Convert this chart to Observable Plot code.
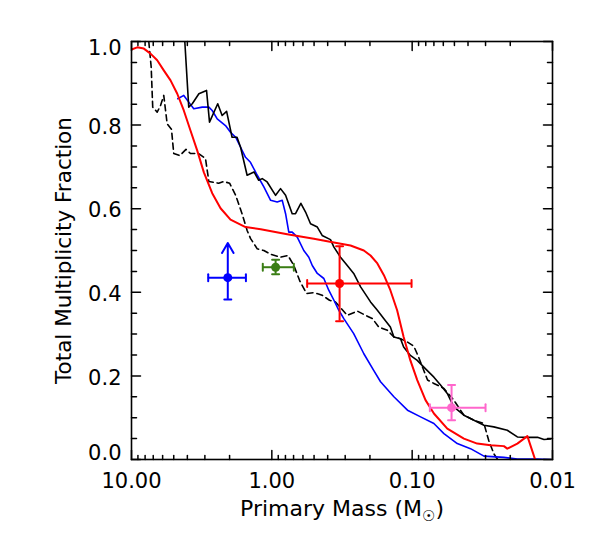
<!DOCTYPE html>
<html><head><meta charset="utf-8">
<script src="https://cdn.jsdelivr.net/npm/d3@7"></script>
<script src="https://cdn.jsdelivr.net/npm/@observablehq/plot@0.6"></script>
<style>body{margin:0;background:#fff}</style>
</head><body><div id="chart"></div>
<script>
// ---- Data (primary mass in solar masses, total multiplicity fraction) ----
const blackSolidMass = [4.17, 3.91, 3.69, 3.31, 2.92, 2.78, 2.43, 2.26, 2.10, 1.92, 1.77, 1.67, 1.50, 1.34, 1.24, 1.17, 1.08, 0.94, 0.867, 0.798, 0.716, 0.678, 0.621, 0.575, 0.530, 0.474, 0.438, 0.382, 0.361, 0.324, 0.290, 0.261, 0.233, 0.209, 0.198, 0.177, 0.159, 0.143, 0.135, 0.121, 0.115, 0.103, 0.092, 0.0826, 0.070, 0.0628, 0.0562, 0.0505, 0.0428, 0.0363, 0.0308, 0.0262, 0.0210, 0.0178, 0.0151, 0.0128, 0.0115, 0.0103];
const blackSolidFrac = [1.0, 0.843, 0.851, 0.875, 0.883, 0.807, 0.851, 0.823, 0.833, 0.771, 0.771, 0.747, 0.680, 0.688, 0.668, 0.672, 0.664, 0.632, 0.648, 0.632, 0.588, 0.588, 0.613, 0.592, 0.564, 0.556, 0.536, 0.526, 0.508, 0.484, 0.464, 0.445, 0.413, 0.389, 0.377, 0.357, 0.337, 0.317, 0.293, 0.289, 0.269, 0.249, 0.237, 0.221, 0.197, 0.178, 0.158, 0.126, 0.106, 0.094, 0.082, 0.078, 0.070, 0.054, 0.053, 0.053, 0.048, 0.049];

const blackDashMass = [7.53, 7.24, 7.06, 6.56, 6.21, 5.89, 5.57, 5.19, 5.00, 4.53, 4.09, 3.80, 3.33, 2.97, 2.81, 2.59, 2.39, 2.20, 2.00, 1.81, 1.63, 1.50, 1.42, 1.27, 1.14, 1.02, 0.867, 0.767, 0.697, 0.630, 0.566, 0.508, 0.465, 0.438, 0.388, 0.352, 0.290, 0.246, 0.215, 0.192, 0.173, 0.150, 0.135, 0.121, 0.108, 0.0973, 0.090, 0.0826, 0.0777, 0.070, 0.0594, 0.0505, 0.0428, 0.0363, 0.0308, 0.0285, 0.0262, 0.0246];
const blackDashFrac = [1.0, 0.939, 0.843, 0.831, 0.847, 0.871, 0.803, 0.790, 0.732, 0.727, 0.742, 0.732, 0.732, 0.720, 0.665, 0.663, 0.661, 0.665, 0.661, 0.632, 0.588, 0.548, 0.529, 0.504, 0.500, 0.491, 0.484, 0.488, 0.464, 0.426, 0.397, 0.399, 0.396, 0.393, 0.381, 0.377, 0.345, 0.355, 0.345, 0.337, 0.317, 0.309, 0.293, 0.289, 0.281, 0.271, 0.245, 0.213, 0.190, 0.182, 0.170, 0.142, 0.106, 0.094, 0.086, 0.046, 0.014, 0.0];

const blueMass = [4.68, 4.24, 3.91, 3.60, 3.13, 2.81, 2.66, 2.45, 2.14, 1.97, 1.81, 1.67, 1.54, 1.42, 1.27, 1.14, 1.02, 0.916, 0.843, 0.798, 0.757, 0.716, 0.659, 0.592, 0.545, 0.515, 0.474, 0.426, 0.393, 0.361, 0.333, 0.307, 0.261, 0.221, 0.188, 0.168, 0.135, 0.108, 0.0871, 0.070, 0.0594, 0.0477, 0.0384, 0.0308, 0.0222, 0.0178, 0.0128, 0.0103];
const blueFrac = [0.863, 0.871, 0.855, 0.839, 0.843, 0.843, 0.835, 0.815, 0.799, 0.783, 0.771, 0.747, 0.723, 0.711, 0.680, 0.652, 0.620, 0.616, 0.620, 0.588, 0.544, 0.544, 0.532, 0.500, 0.484, 0.464, 0.445, 0.433, 0.405, 0.381, 0.357, 0.337, 0.301, 0.253, 0.213, 0.186, 0.150, 0.118, 0.102, 0.086, 0.062, 0.038, 0.026, 0.008, 0.005, 0.001, 0.001, 0.0];

const redMass = [10, 9.10, 8.17, 7.32, 6.56, 5.89, 5.27, 4.72, 4.24, 3.80, 3.40, 3.05, 2.66, 2.32, 1.97, 1.54, 1.20, 0.777, 0.502, 0.361, 0.275, 0.221, 0.198, 0.177, 0.159, 0.143, 0.128, 0.115, 0.103, 0.092, 0.0803, 0.070, 0.0562, 0.0428, 0.0344, 0.0276, 0.0222, 0.0210, 0.0178, 0.0151, 0.0133];
const redFrac = [0.981, 0.986, 0.983, 0.971, 0.955, 0.931, 0.907, 0.875, 0.835, 0.787, 0.739, 0.687, 0.637, 0.601, 0.574, 0.556, 0.551, 0.539, 0.528, 0.519, 0.512, 0.500, 0.488, 0.469, 0.441, 0.405, 0.357, 0.293, 0.237, 0.190, 0.142, 0.110, 0.074, 0.050, 0.038, 0.034, 0.032, 0.026, 0.038, 0.056, 0.0];

// Observational points with error bars
const pointMass    = [2.06, 0.94, 0.329, 0.0524];
const pointFrac    = [0.435, 0.460, 0.421, 0.124];
const pointMassHi  = [2.84, 1.16, 0.560, 0.0748];
const pointMassLo  = [1.53, 0.697, 0.101, 0.030];
const pointFracHi  = [0.518, 0.478, 0.510, 0.178];
const pointFracLo  = [0.383, 0.443, 0.331, 0.094];
const pointLowerLimit = [true, false, false, false];
const pointColor   = ["#0000ff", "#3a7d14", "#ff0000", "#ff66cc"];

// Axis ticks
const xMajorTicks = [10, 1, 0.1, 0.01];
const xTickLabels = ["10.00", "1.00", "0.10", "0.01"];
const xMinorTicks = [9, 8, 7, 6, 5, 4, 3, 2, 0.9, 0.8, 0.7, 0.6, 0.5, 0.4, 0.3, 0.2, 0.09, 0.08, 0.07, 0.06, 0.05, 0.04, 0.03, 0.02];
const yMajorTicks = [0, 0.2, 0.4, 0.6, 0.8, 1.0];
const yTickLabels = ["0.0", "0.2", "0.4", "0.6", "0.8", "1.0"];
const yMinorTicks = [0.05, 0.1, 0.15, 0.25, 0.3, 0.35, 0.45, 0.5, 0.55, 0.65, 0.7, 0.75, 0.85, 0.9, 0.95];
const xLabel = "Primary Mass (M☉)";
const yLabel = "Total Multiplicity Fraction";

// ---- Build tables ----
const zip = (ms, fs) => ms.map((m, i) => ({m, f: fs[i]}));
const blackSolid = zip(blackSolidMass, blackSolidFrac);
const blackDash = zip(blackDashMass, blackDashFrac);
const blue = zip(blueMass, blueFrac);
const red = zip(redMass, redFrac);
const points = pointMass.map((m, i) => ({
  m, f: pointFrac[i], mhi: pointMassHi[i], mlo: pointMassLo[i],
  fhi: pointFracHi[i], flo: pointFracLo[i], limit: pointLowerLimit[i], color: pointColor[i]
}));
const barPoints = points.filter(d => !d.limit);
const limitPoints = points.filter(d => d.limit);

const tickLine = {draw(context, l) { context.moveTo(0, 0); context.lineTo(0, -l); }};
const T = {stroke: "black", strokeWidth: 1.5, shape: tickLine, anchor: "start"};
const font = {fontFamily: "DejaVu Sans", fontSize: 21, fill: "black"};
const midY = yTickLabels.slice(1, 5);

const plot = Plot.plot({
  width: 591, height: 543,
  marginLeft: 131, marginRight: 39, marginTop: 41, marginBottom: 84,
  x: {type: "log", domain: [10, 0.01], axis: null},
  y: {domain: [0, 1], axis: null},
  color: {type: "identity"},
  style: {background: "white", fontFamily: "DejaVu Sans"},
  marks: [
    // curves
    Plot.line(blackDash, {x: "m", y: "f", stroke: "black", strokeWidth: 1.6, strokeDasharray: "6,4", clip: true}),
    Plot.line(blue, {x: "m", y: "f", stroke: "#0000ff", strokeWidth: 1.6, clip: true}),
    Plot.line(blackSolid, {x: "m", y: "f", stroke: "black", strokeWidth: 1.6, clip: true}),
    Plot.line(red, {x: "m", y: "f", stroke: "#ff0000", strokeWidth: 2, clip: true}),
    // error bars
    Plot.ruleY(points, {y: "f", x1: "mlo", x2: "mhi", stroke: "color", strokeWidth: 2}),
    Plot.ruleX(barPoints, {x: "m", y1: "flo", y2: "fhi", stroke: "color", strokeWidth: 2}),
    Plot.ruleX(limitPoints, {x: "m", y1: "flo", y2: "f", stroke: "color", strokeWidth: 2}),
    Plot.arrow(limitPoints, {x1: "m", y1: "f", x2: "m", y2: "fhi", stroke: "color", strokeWidth: 2, headLength: 9}),
    Plot.vector(points, {x: "mlo", y: "f", length: 7, rotate: 0, anchor: "middle", shape: tickLine, stroke: "color", strokeWidth: 2}),
    Plot.vector(points, {x: "mhi", y: "f", length: 7, rotate: 0, anchor: "middle", shape: tickLine, stroke: "color", strokeWidth: 2}),
    Plot.vector(points, {x: "m", y: "flo", length: 7, rotate: 90, anchor: "middle", shape: tickLine, stroke: "color", strokeWidth: 2}),
    Plot.vector(barPoints, {x: "m", y: "fhi", length: 7, rotate: 90, anchor: "middle", shape: tickLine, stroke: "color", strokeWidth: 2}),
    Plot.dot(points, {x: "m", y: "f", r: 4.5, fill: "color", stroke: "none"}),
    // frame and inward ticks
    Plot.frame({stroke: "black", strokeWidth: 1.6}),
    Plot.vector(xMajorTicks, {...T, x: d => d, y: () => 0, length: 9, rotate: 0}),
    Plot.vector(xMinorTicks, {...T, x: d => d, y: () => 0, length: 4, rotate: 0}),
    Plot.vector(xMajorTicks, {...T, x: d => d, y: () => 1, length: 9, rotate: 180}),
    Plot.vector(xMinorTicks, {...T, x: d => d, y: () => 1, length: 4, rotate: 180}),
    Plot.vector(yMajorTicks, {...T, x: () => 10, y: d => d, length: 9, rotate: 90}),
    Plot.vector(yMinorTicks, {...T, x: () => 10, y: d => d, length: 5, rotate: 90}),
    Plot.vector(yMajorTicks, {...T, x: () => 0.01, y: d => d, length: 9, rotate: -90}),
    Plot.vector(yMinorTicks, {...T, x: () => 0.01, y: d => d, length: 5, rotate: -90}),
    // tick labels
    Plot.text(xMajorTicks, {...font, x: d => d, y: () => 0, text: (d, i) => xTickLabels[i], dy: 22}),
    Plot.text(yMajorTicks.slice(1, 5), {...font, x: () => 10, y: d => d, text: (d, i) => midY[i], textAnchor: "end", dx: -10, dy: 2}),
    Plot.text([yMajorTicks[0]], {...font, x: () => 10, y: d => d, text: () => yTickLabels[0], textAnchor: "end", dx: -10, dy: -6}),
    Plot.text([yMajorTicks[5]], {...font, x: () => 10, y: d => d, text: () => yTickLabels[5], textAnchor: "end", dx: -10, dy: 7}),
    // axis titles
    Plot.text([yLabel], {...font, fontSize: 21.5, text: d => d, frameAnchor: "left", textAnchor: "middle", rotate: -90, dx: -67}),
    Plot.text([xLabel], {...font, fontSize: 22, text: d => d, frameAnchor: "bottom", textAnchor: "middle", dy: 56})
  ]
});

// subscript the solar symbol
d3.select(plot).selectAll("text").filter(function() { return this.textContent === xLabel; }).each(function() {
  const t = d3.select(this);
  t.text(null);
  t.append("tspan").text("Primary Mass (M");
  t.append("tspan").attr("font-size", 15).attr("dy", 5).text("☉");
  t.append("tspan").attr("dy", -5).text(")");
});

document.getElementById("chart").appendChild(plot);
</script>
</body></html>
